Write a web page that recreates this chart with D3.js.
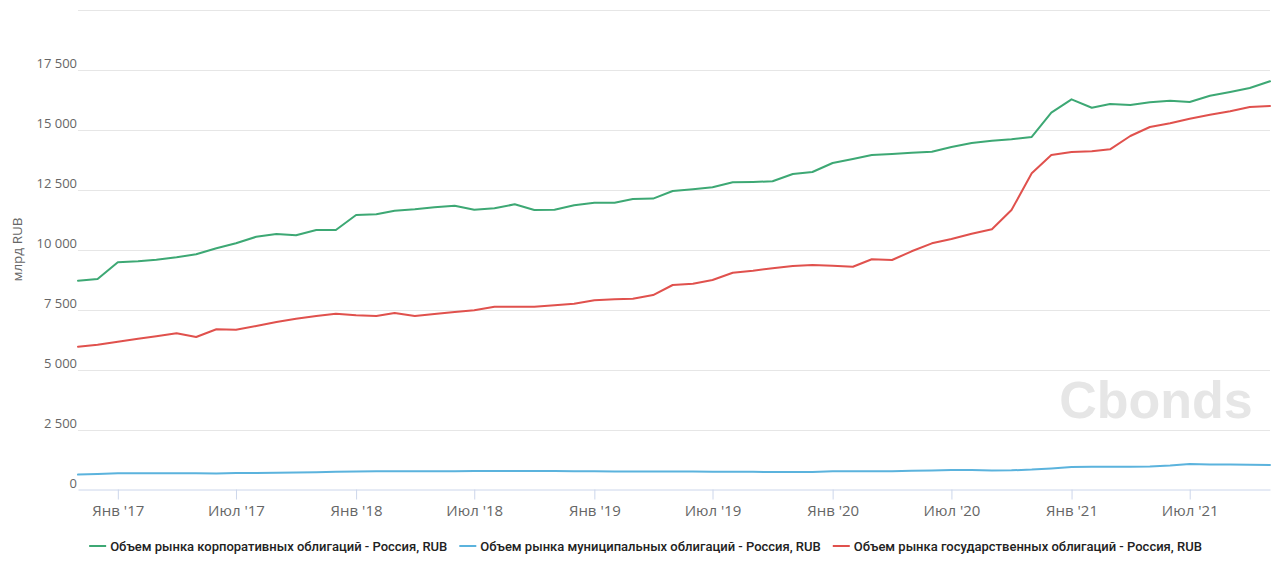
<!DOCTYPE html>
<html><head><meta charset="utf-8">
<script src="https://cdn.jsdelivr.net/npm/d3@7"></script>
<style>
html,body{margin:0;padding:0;background:#fff;}
svg{display:block;}
</style></head>
<body>
<svg id="chart" width="1280" height="578"></svg>
<script>
// ---- data ----
const startMonth = "2016-11"; // first observation, monthly thereafter
const seriesNames = [
  "Объем рынка корпоративных облигаций - Россия, RUB",
  "Объем рынка муниципальных облигаций - Россия, RUB",
  "Объем рынка государственных облигаций - Россия, RUB"
];
const corporate = [8700,8770,9470,9510,9575,9675,9800,10050,10260,10530,10650,10590,10810,10810,11440,
  11467,11617,11675,11758,11825,11658,11717,11883,11646,11658,11842,11950,11950,12104,12120,
  12438,12508,12592,12800,12813,12842,13146,13229,13604,13771,13938,13979,14033,14075,14270,
  14438,14533,14592,14688,15700,16258,15908,16063,16021,16133,16200,16146,16408,16563,16729,17008];
const municipal = [620,650,680,680,680,680,680,670,685,690,695,705,720,735,755,
  760,760,760,760,765,775,775,775,770,770,765,760,755,755,755,
  750,750,740,735,735,730,725,730,760,765,765,765,785,790,810,
  815,790,800,830,880,940,945,945,945,960,1000,1060,1045,1040,1035,1020];
const government = [5950,6033,6158,6283,6383,6508,6354,6675,6658,6813,6979,7117,7229,7325,7258,
  7229,7354,7229,7313,7396,7467,7617,7617,7617,7675,7742,7883,7925,7950,8100,
  8521,8575,8729,9033,9117,9217,9313,9354,9325,9283,9592,9563,9925,10258,10440,
  10658,10842,11646,13175,13938,14063,14092,14175,14729,15104,15258,15450,15617,15758,15938,15979];
const yTicks = [0,2500,5000,7500,10000,12500,15000,17500,20000];
const xTickDates = ["2017-01","2017-07","2018-01","2018-07","2019-01","2019-07","2020-01","2020-07","2021-01","2021-07"];
const monthNames = ["Янв","Фев","Мар","Апр","Май","Июн","Июл","Авг","Сен","Окт","Ноя","Дек"];
const yTitle = "млрд RUB";
const watermark = "Cbonds";

(function () {
// ---- layout ----
const colors = ["#3da874","#5bb3dd","#e0514d"];
const pLeft = 78, pRight = 1270, pTop = 9.5, pBottom = 489.5;
const svg = d3.select("#chart");
const parseM = d3.timeParse("%Y-%m");
const start = parseM(startMonth);
const dates = corporate.map((_, i) => d3.timeMonth.offset(start, i));
const series = [corporate, municipal, government];

const x = d3.scaleTime().domain([dates[0], dates[dates.length - 1]]).range([pLeft, pRight]);
const y = d3.scaleLinear().domain([0, 20000]).range([pBottom, pTop]);

// watermark
svg.append("text").attr("x", 1156).attr("y", 418).attr("text-anchor", "middle")
  .attr("font-family", "Liberation Sans, Arial, sans-serif").attr("font-weight", "bold")
  .attr("font-size", 52).attr("fill", "#e6e6e6").text(watermark);

// gridlines
svg.append("g").selectAll("line").data(yTicks.filter(d => d > 0)).join("line")
  .attr("x1", pLeft).attr("x2", pRight)
  .attr("y1", d => Math.round(y(d)) + 0.5).attr("y2", d => Math.round(y(d)) + 0.5)
  .attr("stroke", "#e6e6e6").attr("stroke-width", 1);

// y labels
const fmt = d => d3.format(",")(d).replace(/,/g, " ");
svg.append("g").selectAll("text").data(yTicks.filter(d => d < 20000)).join("text")
  .attr("x", 77).attr("y", d => y(d) - 2).attr("text-anchor", "end")
  .attr("font-family", "Open Sans, sans-serif").attr("font-size", 13).attr("fill", "#666")
  .text(fmt);

// y title
svg.append("text").attr("transform", `translate(22,${(pTop + pBottom) / 2}) rotate(-90)`)
  .attr("text-anchor", "middle").attr("font-family", "Open Sans, sans-serif")
  .attr("font-size", 13.5).attr("fill", "#666").text(yTitle);

// x axis
const tickDates = xTickDates.map(parseM);
const xAxis = d3.axisBottom(x).tickValues(tickDates).tickSizeInner(10).tickSizeOuter(0).tickPadding(6)
  .tickFormat(d => monthNames[d.getMonth()] + " '" + d3.timeFormat("%y")(d));
const gx = svg.append("g").attr("transform", `translate(0,${pBottom})`).call(xAxis);
gx.select(".domain").attr("stroke", "#ccd6eb");
gx.selectAll(".tick line").attr("stroke", "#ccd6eb");
gx.selectAll(".tick text").attr("font-family", "Open Sans, sans-serif").attr("font-size", 15)
  .attr("fill", "#666");

// lines
const line = d3.line().x((d, i) => x(dates[i])).y(d => y(d));
svg.append("g").selectAll("path").data(series).join("path")
  .attr("d", d => line(d)).attr("fill", "none")
  .attr("stroke", (d, i) => colors[i]).attr("stroke-width", 2)
  .attr("stroke-linejoin", "round").attr("stroke-linecap", "round");

// legend
const lg = svg.append("g");
const items = lg.selectAll("g").data(seriesNames).join("g");
items.append("line").attr("x1", 0).attr("x2", 17).attr("y1", 0).attr("y2", 0)
  .attr("stroke", (d, i) => colors[i]).attr("stroke-width", 2);
items.append("text").attr("x", 21).attr("y", 4.8)
  .attr("font-family", "Roboto, sans-serif").attr("font-weight", 500).attr("font-size", 13)
  .attr("fill", "#222").text(d => d);
let cx = 0; const pos = [];
items.each(function () {
  const w = 21 + this.querySelector("text").getComputedTextLength();
  pos.push(cx); cx += w + 12;
});
const total = cx - 12;
const x0 = 645.5 - total / 2;
items.attr("transform", (d, i) => `translate(${x0 + pos[i]},546)`);
})();
</script>
</body></html>
